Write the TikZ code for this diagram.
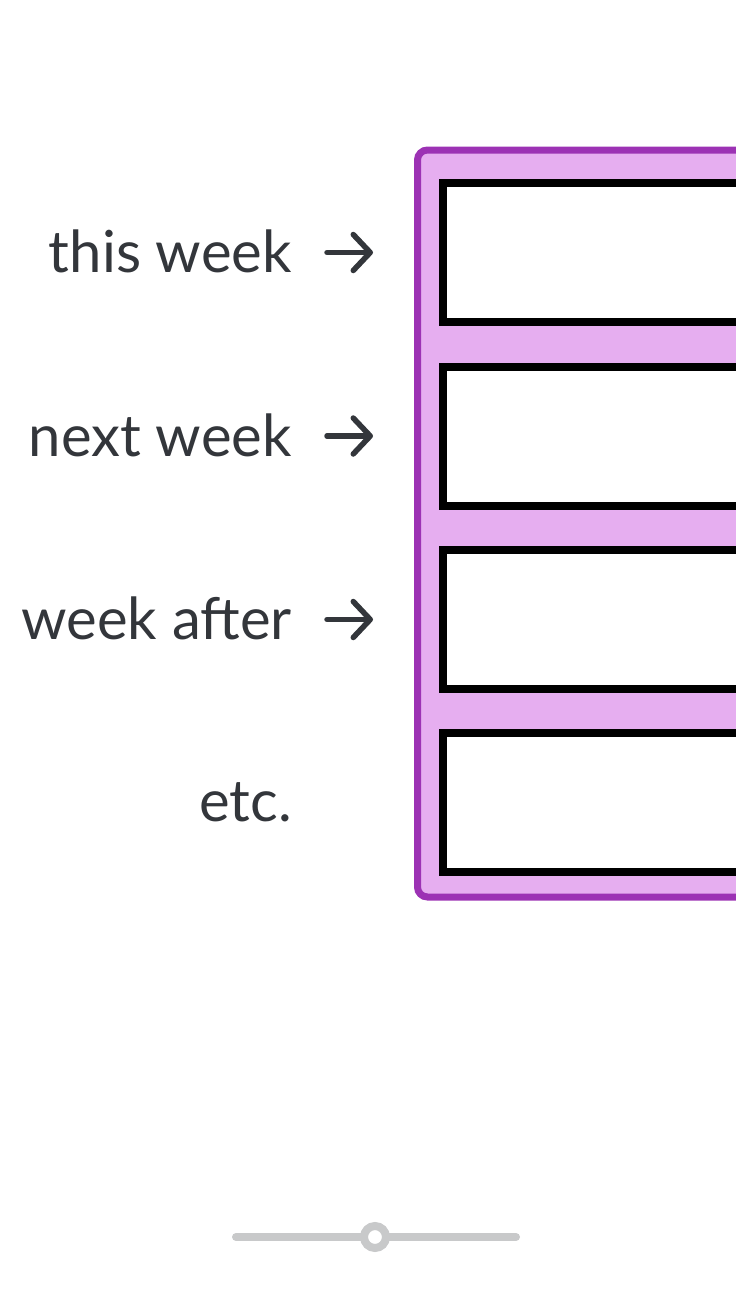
\documentclass[tikz,border=0pt]{standalone}
\usepackage{fontspec}
\setmainfont{Lato}
\usetikzlibrary{arrows.meta}
\definecolor{panelfill}{RGB}{230,174,240}
\definecolor{paneledge}{RGB}{156,50,180}
\definecolor{inkgray}{RGB}{51,54,59}
\definecolor{slidergray}{RGB}{200,201,202}
\tikzset{
  weekbox/.style={draw=black, line width=8pt, fill=white, rectangle,
    minimum width=600pt, minimum height=139pt, inner sep=0pt},
  weeklabel/.style={text=inkgray, inner sep=0pt, font=\fontsize{58}{70}\selectfont},
  weekarrow/.style={draw=inkgray, line width=5.5pt, line cap=round,
    -{Straight Barb[round, length=17pt, width=36pt]}}
}
\begin{document}
\begin{tikzpicture}[x=1pt, y=-1pt]
      \useasboundingbox (0,0) rectangle (736,1309);
      \clip (0,0) rectangle (736,1309);

      % the purple panel holding the weeks
      \draw[line width=7pt, draw=paneledge, fill=panelfill, rounded corners=10pt]
      (417.5, 150) rectangle (900, 897);

      \node[weekbox] (w1) at (743, 252.5) {};
      \node[weekbox] (w2) at (743, 436.0) {};
      \node[weekbox] (w3) at (743, 619.5) {};
      \node[weekbox] (w4) at (743, 802.0) {};

      \node[weeklabel, anchor=base east] (l1) at (292, 272) {this week};
      \node[weeklabel, anchor=base east] (l2) at (292, 456) {next week};
      \node[weeklabel, anchor=base east] (l3) at (292, 639) {week after};
      \node[weeklabel, anchor=base east] (l4) at (292, 821) {etc.};

      % arrows from labels to boxes
      \foreach \i in {1,2,3}
      \draw[weekarrow, shorten <=35pt, shorten >=66pt] (w\i.west -| l\i.east) -- (w\i.west);

      % slider
      \draw[line width=8pt, draw=slidergray, line cap=round] (236, 1237) -- (516, 1237);
      \node[circle, draw=slidergray, fill=white, line width=8pt, minimum size=22pt, inner sep=0pt]
      (knob) at (375, 1237) {};
    \end{tikzpicture}
\end{document}
